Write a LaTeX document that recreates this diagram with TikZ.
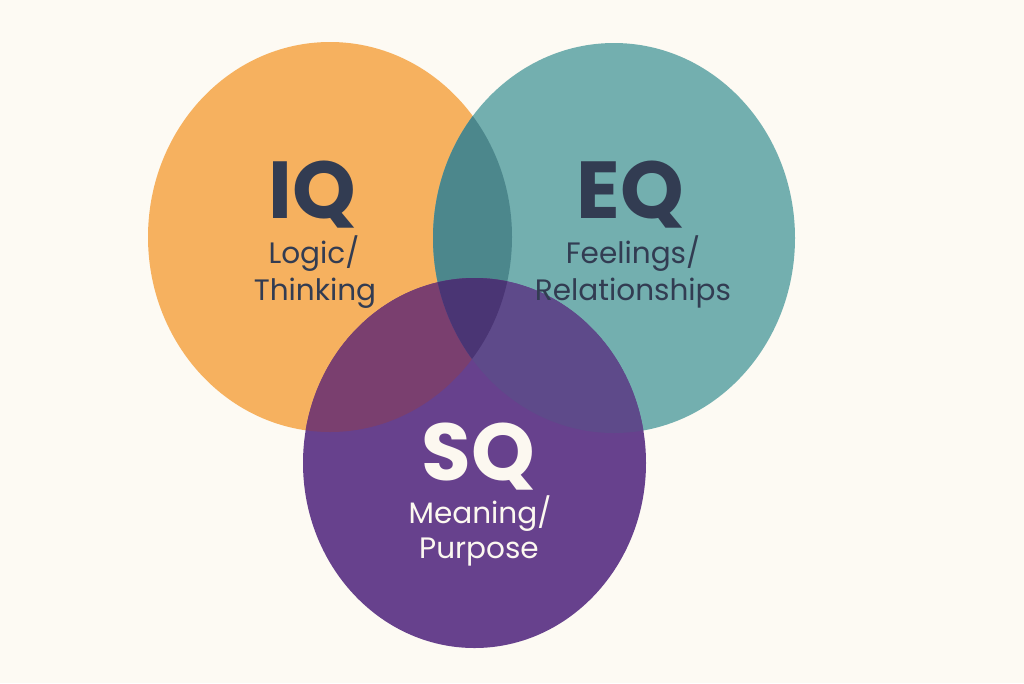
\documentclass[tikz,border=0pt]{standalone}
\usepackage{fontspec}
\setmainfont{Poppins}
\usepackage{tikz}
\usetikzlibrary{positioning}
\definecolor{vdbg}{RGB}{253,250,243}
\definecolor{vdorange}{RGB}{246,177,95}
\definecolor{vdteal}{RGB}{115,175,175}
\definecolor{vdpurple}{RGB}{103,65,141}
\definecolor{vdot}{RGB}{76,135,140}
\definecolor{vdop}{RGB}{122,63,111}
\definecolor{vdtp}{RGB}{94,74,138}
\definecolor{vdall}{RGB}{74,53,116}
\definecolor{vdnavy}{RGB}{50,60,82}
\definecolor{vdcream}{RGB}{252,248,240}
\tikzstyle{heading} = [font=\fontsize{23}{23}\selectfont\bfseries, text=vdnavy, inner sep=0pt, anchor=base]
\tikzstyle{caption} = [font=\fontsize{8.4}{10.5}\selectfont, text=vdnavy, inner sep=0pt, anchor=base]
\newcommand\iqpath{(330,237) ellipse [x radius=18.2mm, y radius=19.5mm]}
\newcommand\eqpath{(614,238) ellipse [x radius=18.1mm, y radius=19.5mm]}
\newcommand\sqpath{(474.5,463) ellipse [x radius=17.15mm, y radius=18.5mm]}

\begin{document}
\begin{tikzpicture}[x=0.1mm, y=-0.1mm]
\useasboundingbox (0,0) rectangle (1024,683);
\fill[vdbg] (0,0) rectangle (1024,683);

% Circles
\fill[vdorange] \iqpath;
\fill[vdteal] \eqpath;
\fill[vdpurple] \sqpath;

% Overlaps
\begin{scope}
\clip \iqpath;
\fill[vdot] \eqpath;
\fill[vdop] \sqpath;
\end{scope}
\begin{scope}
\clip \eqpath;
\fill[vdtp] \sqpath;
\end{scope}
\begin{scope}
\clip \iqpath;
\clip \eqpath;
\fill[vdall] \sqpath;
\end{scope}

% Labels
\node (iq) [heading] at (312,218) {IQ};
\node (logic) [caption] at (314,263) {Logic/};
\node (thinking) [caption] at (315,300) {Thinking};

\node (eq) [heading] at (630,218) {EQ};
\node (feelings) [caption] at (633,263) {Feelings/};
\node (relations) [caption] at (633,300) {Relationships};

\node (sq) [heading, text=vdcream] at (478,480) {SQ};
\node (meaning) [caption, text=vdcream] at (480,523) {Meaning/};
\node (purpose) [caption, text=vdcream] at (479,558) {Purpose};
\end{tikzpicture}
\end{document}
